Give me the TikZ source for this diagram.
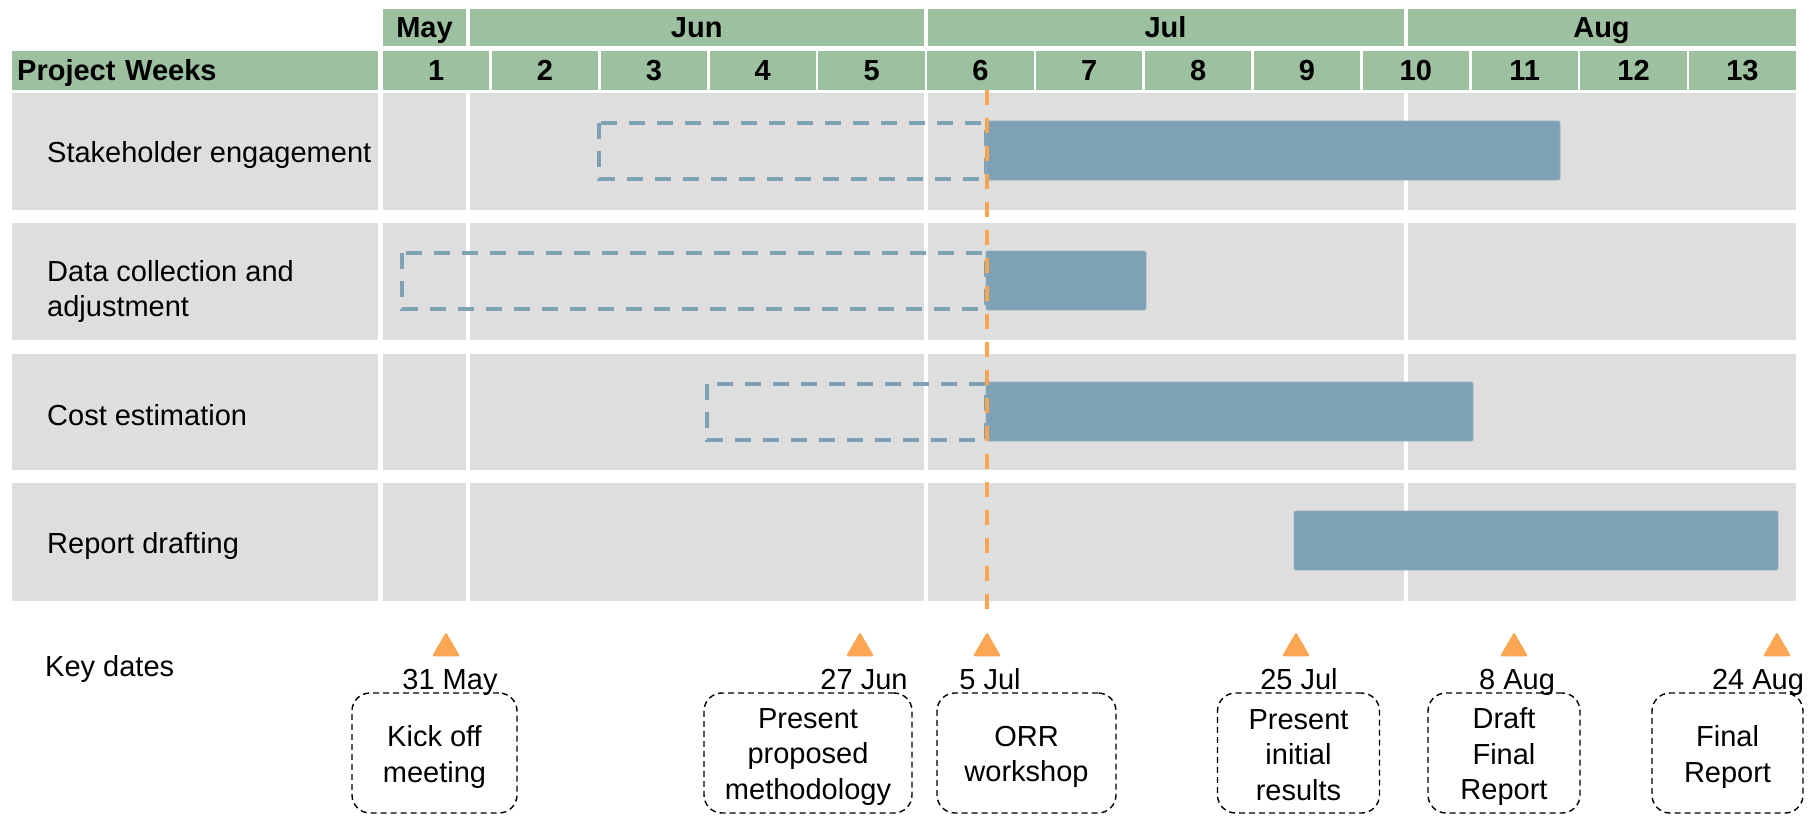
\documentclass[tikz,border=0pt]{standalone}
\usepackage{fontspec}
\setmainfont{Liberation Sans}
\usetikzlibrary{shapes.geometric}
\definecolor{hdrgreen}{RGB}{157,192,160}
\definecolor{cellgray}{RGB}{222,222,222}
\definecolor{barblue}{RGB}{127,161,182}
\definecolor{accent}{RGB}{250,166,82}
\begin{document}
\begin{tikzpicture}[x=1pt,y=-1pt,
  every node/.style={font=\fontsize{29}{35.5}\selectfont},
  hdrcell/.style={fill=hdrgreen, inner sep=0pt, text height=20.8pt, text depth=0pt, font=\fontsize{29}{35.5}\selectfont\bfseries},
  tasklabel/.style={anchor=west, inner sep=0pt, align=left},
  planbox/.style={draw=barblue, line width=4pt, dash pattern=on 16pt off 12pt},
  barfill/.style={fill=barblue, draw=barblue!85!white, line width=0.8pt, rounded corners=2pt},
  todayline/.style={draw=accent, line width=3.5pt, dash pattern=on 15pt off 13pt},
  tri/.style={regular polygon, regular polygon sides=3, fill=accent, minimum size=32.3pt, inner sep=0pt, rounded corners=2pt},
  datelabel/.style={anchor=base, inner sep=0pt},
  keybox/.style={draw=black, line width=1.4pt, dash pattern=on 6pt off 4pt, rounded corners=18pt, minimum height=120pt, inner sep=0pt},
  boxtext/.style={align=center, inner sep=0pt}]
\useasboundingbox (0,0) rectangle (1817,815);

% month header
\foreach \nm/\xl/\xr in {May/383/466, Jun/470/923.5, Jul/927.5/1403.5, Aug/1407.5/1795.5}{
  \pgfmathsetmacro{\xc}{(\xl+\xr)/2}
  \pgfmathsetmacro{\w}{\xr-\xl}
  \node[hdrcell, minimum width=\w pt, minimum height=37pt] (m\nm) at (\xc,27.5) {\nm};
}
% week header
\node[hdrcell, minimum width=366pt, minimum height=39pt, anchor=west, text width=361pt, align=left] (pw) at (12,70.5) {\hspace*{2.5pt}Project Weeks};
\foreach \k in {1,...,13}{
  \pgfmathsetmacro{\xl}{381.75+(\k-1)*108.85+1.25}
  \pgfmathsetmacro{\xr}{381.75+\k*108.85-1.25}
  \pgfmathsetmacro{\xc}{(\xl+\xr)/2}
  \pgfmathsetmacro{\w}{\xr-\xl}
  \node[hdrcell, minimum width=\w pt, minimum height=39pt] (wk\k) at (\xc,70.5) {\k};
}
% body cells
\foreach \yt/\yb in {93/210, 223/340, 354/470, 483/601}{
  \foreach \xl/\xr in {12/378, 383/466, 470/923.5, 927.5/1403.5, 1407.5/1795.5}{
    \fill[cellgray] (\xl,\yt) rectangle (\xr,\yb);
  }
}
% task labels
\node[tasklabel] (t1) at (47,155) {Stakeholder engagement};
\node[tasklabel] (t2) at (47,291.5) {Data collection and\\adjustment};
\node[tasklabel] (t3) at (47,415) {Cost estimation};
\node[tasklabel] (t4) at (47,546) {Report drafting};

% planned (dashed) extents
\draw[planbox] (599,122.5) rectangle (986,178.5);
\draw[planbox] (402,252.5) rectangle (986,308.5);
\draw[planbox] (707,383.5) rectangle (986,439.5);

% bars
\draw[barfill] (986,121) rectangle (1560,180);
\draw[barfill] (986,251) rectangle (1146,310);
\draw[barfill] (986,382) rectangle (1473,441);
\draw[barfill] (1294,511) rectangle (1778,570);

% today line
\coordinate (ltop) at (987,90);
\coordinate (lbot) at (987,616);
\draw[todayline] (ltop) -- (lbot);

% key dates
\node[anchor=base west, inner sep=0pt] (kd) at (45,676) {Key dates};
\foreach \n/\ax/\tx/\lab in {a/446/450/31 May, b/860/864/27 Jun, c/987/990/5 Jul, d/1296/1299/25 Jul, e/1514/1517/8 Aug, f/1777/1758/24 Aug}{
  \node[tri] (tri\n) at (\ax,648.2) {};
  \node[datelabel] (dl\n) at (\tx,689) {\lab};
}

\node[keybox, minimum width=165pt] (kb1) at (434.5,753) {};
\node[boxtext] (kt1) at ([yshift=-4pt]kb1.center) {Kick off\\meeting};
\node[keybox, minimum width=208pt] (kb2) at (808,753) {};
\node[boxtext] (kt2) at ([yshift=-4pt]kb2.center) {Present\\proposed\\methodology};
\node[keybox, minimum width=179pt] (kb3) at (1026.5,753) {};
\node[boxtext] (kt3) at ([yshift=-4pt]kb3.center) {ORR\\workshop};
\node[keybox, minimum width=162pt] (kb4) at (1298.5,753) {};
\node[boxtext] (kt4) at ([yshift=-2pt]kb4.center) {Present\\initial\\results};
\node[keybox, minimum width=152pt] (kb5) at (1504,753) {};
\node[boxtext] (kt5) at ([yshift=-4pt]kb5.center) {Draft\\Final\\Report};
\node[keybox, minimum width=151pt] (kb6) at (1727.5,753) {};
\node[boxtext] (kt6) at ([yshift=-4pt]kb6.center) {Final\\Report};
\end{tikzpicture}
\end{document}
